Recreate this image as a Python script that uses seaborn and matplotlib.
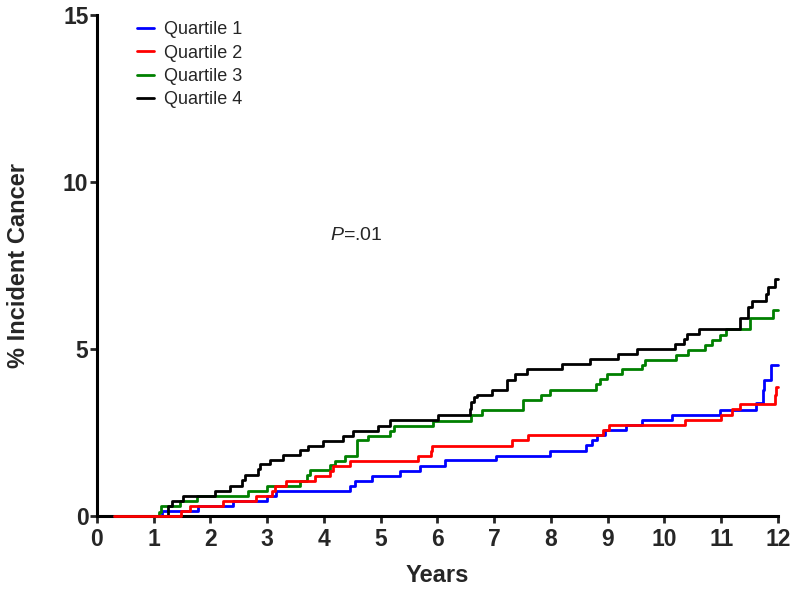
import pandas as pd
import matplotlib.pyplot as plt
import seaborn as sns

# Kaplan-Meier style cumulative incidence (step post)
q1_t = [0.3, 1.14, 1.79, 2.4, 3.0, 3.16, 4.46, 4.55, 4.84, 5.34, 5.69, 6.13, 7.03, 7.99,
        8.62, 8.72, 8.82, 8.95, 9.32, 9.6, 10.13, 10.98, 11.62, 11.74, 11.76, 11.87, 12.0]
q1_v = [0, 0.15, 0.3, 0.45, 0.6, 0.75, 0.9, 1.05, 1.2, 1.36, 1.51, 1.68, 1.81, 1.96,
        2.12, 2.27, 2.42, 2.57, 2.72, 2.87, 3.02, 3.17, 3.37, 3.77, 4.07, 4.52, 4.52]

q2_t = [0.3, 1.49, 1.64, 2.23, 2.81, 3.08, 3.14, 3.34, 3.84, 4.11, 4.16, 4.46, 5.66, 5.88,
        5.9, 7.31, 7.6, 8.92, 9.02, 10.36, 11.0, 11.19, 11.33, 11.95, 11.97, 12.0]
q2_v = [0, 0.15, 0.3, 0.45, 0.6, 0.75, 0.9, 1.06, 1.2, 1.36, 1.5, 1.65, 1.8, 1.95,
        2.1, 2.27, 2.42, 2.57, 2.72, 2.87, 3.02, 3.19, 3.34, 3.62, 3.85, 3.85]

q3_t = [0.3, 1.1, 1.13, 1.46, 1.76, 2.67, 2.99, 3.58, 3.7, 3.76, 4.11, 4.2, 4.37, 4.58,
        4.78, 5.16, 5.24, 5.93, 6.6, 6.78, 7.51, 7.83, 7.98, 8.8, 8.86, 8.98, 9.25, 9.6,
        9.65, 10.2, 10.42, 10.71, 10.83, 10.98, 11.08, 11.5, 11.92, 12.0]
q3_v = [0, 0.13, 0.3, 0.45, 0.6, 0.75, 0.9, 1.05, 1.23, 1.38, 1.53, 1.65, 1.8, 2.27,
        2.4, 2.55, 2.7, 2.85, 3.02, 3.17, 3.47, 3.62, 3.77, 3.94, 4.09, 4.24, 4.39, 4.52,
        4.67, 4.82, 4.97, 5.12, 5.27, 5.42, 5.59, 5.92, 6.17, 6.17]

q4_t = [0.3, 1.26, 1.33, 1.52, 2.08, 2.34, 2.55, 2.61, 2.84, 2.88, 3.05, 3.28, 3.58, 3.72,
        3.99, 4.34, 4.52, 4.96, 5.16, 6.01, 6.57, 6.6, 6.65, 6.69, 6.96, 7.22, 7.36, 7.57,
        8.19, 8.69, 9.19, 9.51, 10.18, 10.35, 10.39, 10.6, 11.33, 11.47, 11.55, 11.78,
        11.82, 11.95, 12.0]
q4_v = [0, 0.3, 0.45, 0.6, 0.75, 0.9, 1.08, 1.23, 1.4, 1.55, 1.68, 1.83, 1.98, 2.1,
        2.25, 2.4, 2.55, 2.7, 2.87, 3.02, 3.2, 3.4, 3.55, 3.62, 3.77, 4.07, 4.24, 4.39,
        4.54, 4.69, 4.85, 4.99, 5.15, 5.3, 5.45, 5.6, 5.93, 6.27, 6.45, 6.65,
        6.87, 7.09, 7.09]

groups = ["Quartile 1", "Quartile 2", "Quartile 3", "Quartile 4"]
colors = ["#0000ff", "#ff0000", "#008000", "#000000"]

frames = []
for name, t, v in zip(groups, [q1_t, q2_t, q3_t, q4_t], [q1_v, q2_v, q3_v, q4_v]):
    frames.append(pd.DataFrame({"Years": t, "pct": v, "group": name}))
df = pd.concat(frames, ignore_index=True)

sns.set_style("ticks")
plt.rcParams["font.family"] = ["Liberation Sans", "DejaVu Sans"]
plt.rcParams["mathtext.fontset"] = "custom"
plt.rcParams["mathtext.rm"] = "Liberation Sans"
plt.rcParams["mathtext.it"] = "Liberation Sans:italic"

fig = plt.figure(figsize=(8, 5.89), dpi=100)
ax = fig.add_axes([0.121, 0.124, 0.8515, 0.8505])

sns.lineplot(data=df, x="Years", y="pct", hue="group", palette=colors,
             estimator=None, drawstyle="steps-post", linewidth=2.0, ax=ax)
# draw the curves on top of the axis line, like the original; red shows at y=0
for ln, z in zip(ax.lines, [3.1, 3.5, 3.2, 3.3]):
    ln.set_zorder(z)
    ln.set_clip_on(False)

ax.set_xlim(0, 12)
ax.set_ylim(0, 15)
ax.set_xticks(range(0, 13))
ax.set_yticks([0, 5, 10, 15])
for lab in ax.get_xticklabels() + ax.get_yticklabels():
    lab.set_fontweight("bold")
ax.tick_params(axis="x", labelsize=16.5, width=2, length=5, direction="out", pad=4)
ax.tick_params(axis="y", labelsize=16.5, width=2, length=5, direction="out", pad=1)
for side in ["top", "right"]:
    ax.spines[side].set_visible(False)
for side in ["left", "bottom"]:
    ax.spines[side].set_linewidth(2.2)
    ax.spines[side].set_color("black")

ax.set_xlabel("Years", fontsize=17, fontweight="bold", labelpad=9)
ax.set_ylabel("% Incident Cancer", fontsize=17, fontweight="bold", labelpad=24)

ax.text(4.1, 8.4, r"$\it{P}$=.01", fontsize=14, va="center", ha="left")

leg = ax.legend(loc="upper left", bbox_to_anchor=(0.035, 1.02), frameon=False,
                fontsize=13, handlelength=0.95, handletextpad=0.55, labelspacing=0.35)

fig.savefig("out.png", dpi=100)
